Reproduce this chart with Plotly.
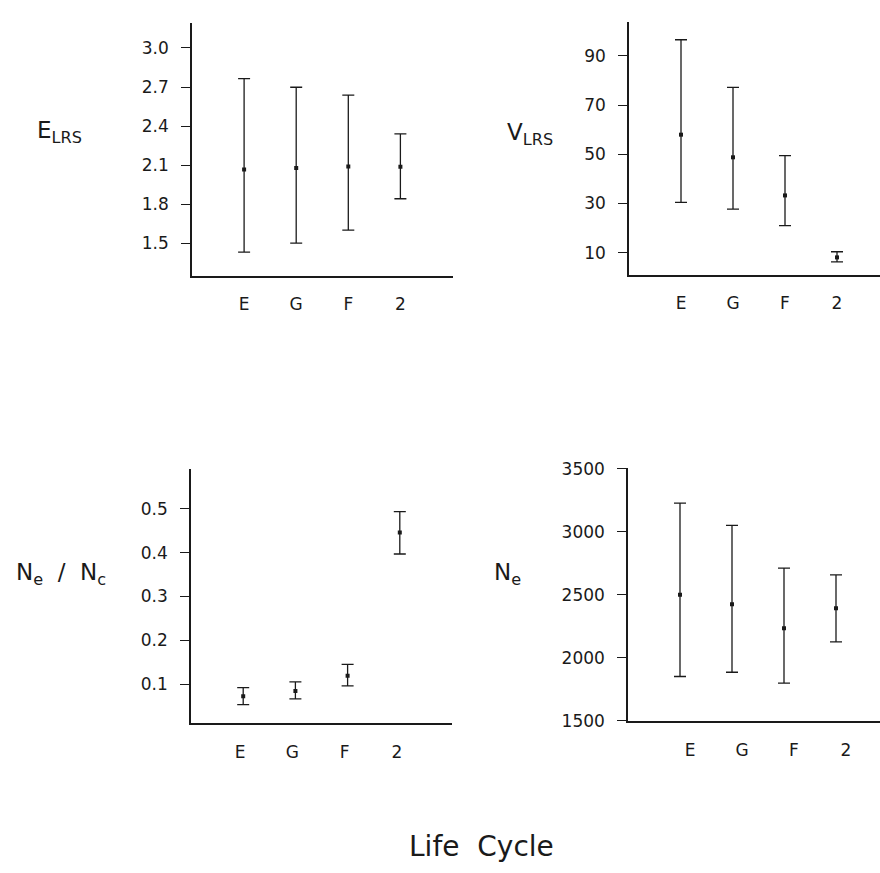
import plotly.graph_objects as go

# ---------------- data ----------------
stages = ["E", "G", "F", "2"]
stage_pos = [1, 2, 3, 4]

elrs_mean = [2.068, 2.078, 2.090, 2.088]
elrs_upper = [2.765, 2.698, 2.638, 2.340]
elrs_lower = [1.433, 1.503, 1.603, 1.843]

vlrs_mean = [58.0, 48.8, 33.3, 8.1]
vlrs_upper = [96.6, 77.2, 49.5, 10.4]
vlrs_lower = [30.5, 27.7, 21.0, 6.3]

ratio_mean = [0.072, 0.084, 0.119, 0.446]
ratio_upper = [0.092, 0.105, 0.145, 0.494]
ratio_lower = [0.053, 0.066, 0.096, 0.397]

ne_mean = [2500, 2425, 2235, 2394]
ne_upper = [3227, 3051, 2712, 2658]
ne_lower = [1852, 1886, 1800, 2127]

elrs_ticks = [1.5, 1.8, 2.1, 2.4, 2.7, 3.0]
vlrs_ticks = [10, 30, 50, 70, 90]
ratio_ticks = [0.1, 0.2, 0.3, 0.4, 0.5]
ne_ticks = [1500, 2000, 2500, 3000, 3500]

# ---------------- style ----------------
INK = "#1a1a1a"
FONT = "DejaVu Sans"
W, H = 880, 873


def errtrace(mean, upper, lower, xa, ya):
    plus = [u - m for u, m in zip(upper, mean)]
    minus = [m - l for m, l in zip(mean, lower)]
    return go.Scatter(
        x=stage_pos, y=mean, xaxis=xa, yaxis=ya, mode="markers",
        marker=dict(symbol="square", size=4, color=INK),
        error_y=dict(type="data", array=plus, arrayminus=minus, symmetric=False,
                     color=INK, thickness=1.3, width=6),
        showlegend=False, hoverinfo="skip",
    )


fig = go.Figure()
fig.add_trace(errtrace(elrs_mean, elrs_upper, elrs_lower, "x", "y"))
fig.add_trace(errtrace(vlrs_mean, vlrs_upper, vlrs_lower, "x2", "y2"))
fig.add_trace(errtrace(ratio_mean, ratio_upper, ratio_lower, "x3", "y3"))
fig.add_trace(errtrace(ne_mean, ne_upper, ne_lower, "x4", "y4"))


def xaxis(domain, rng, anchor, shift=0):
    return dict(domain=domain, range=rng, anchor=anchor,
                tickmode="array", tickvals=stage_pos, ticktext=stages,
                ticks="", showline=True, linecolor=INK, linewidth=1.5,
                showgrid=False, zeroline=False, ticklabelstandoff=12,
                ticklabelshift=shift,
                tickfont=dict(family=FONT, size=17, color=INK))


def yaxis(domain, rng, anchor, ticks, fmt=None):
    d = dict(domain=domain, range=rng, anchor=anchor,
             tickmode="array", tickvals=ticks,
             ticks="outside", ticklen=9, tickwidth=1.2, tickcolor=INK,
             showline=True, linecolor=INK, linewidth=1.5,
             showgrid=False, zeroline=False, ticklabelstandoff=9,
             tickfont=dict(family=FONT, size=17, color=INK))
    if fmt:
        d["tickformat"] = fmt
    return d


fig.update_layout(
    width=W, height=H,
    margin=dict(l=0, r=0, t=0, b=0),
    paper_bgcolor="white", plot_bgcolor="white",
    xaxis=xaxis([192 / W, 452.5 / W], [0, 5], "y"),
    yaxis=yaxis([1 - 272 / H, 1 - 13 / H], [1.25, 3.193], "x", elrs_ticks, ".1f"),
    xaxis2=xaxis([629 / W, 1], [0, 251 / 52], "y2"),
    yaxis2=yaxis([1 - 271 / H, 1 - 12.3 / H], [0.9, 103.8], "x2", vlrs_ticks),
    xaxis3=xaxis([191 / W, 452 / W], [0, 5], "y3", shift=-3),
    yaxis3=yaxis([1 - 729.3 / H, 1 - 469.3 / H], [0.01, 0.591], "x3", ratio_ticks, ".1f"),
    xaxis4=xaxis([628 / W, 1], [0, 252 / 52], "y4", shift=10),
    yaxis4=yaxis([1 - 727.3 / H, 1 - 468.7 / H], [1495.3, 3502.3], "x4", ne_ticks),
)

title_font = dict(family=FONT, size=23, color=INK)
ann = [
    ("E<sub>LRS</sub>", 35, 125),
    ("V<sub>LRS</sub>", 505, 127),
    ("N<sub>e</sub>  /  N<sub>c</sub>", 14, 577),
    ("N<sub>e</sub>", 492, 577),
]
for txt, px, py in ann:
    fig.add_annotation(text=txt, xref="paper", yref="paper", x=px / W, y=1 - py / H,
                       xanchor="left", yanchor="middle", showarrow=False, font=title_font)

fig.add_annotation(text="Life  Cycle", xref="paper", yref="paper", x=481 / W, y=1 - 855 / H,
                   xanchor="center", yanchor="middle", showarrow=False,
                   font=dict(family=FONT, size=28, color=INK))

fig.write_html("out.html", config={"displayModeBar": False},
               post_script="document.body.style.margin='0';document.body.style.padding='0';")
